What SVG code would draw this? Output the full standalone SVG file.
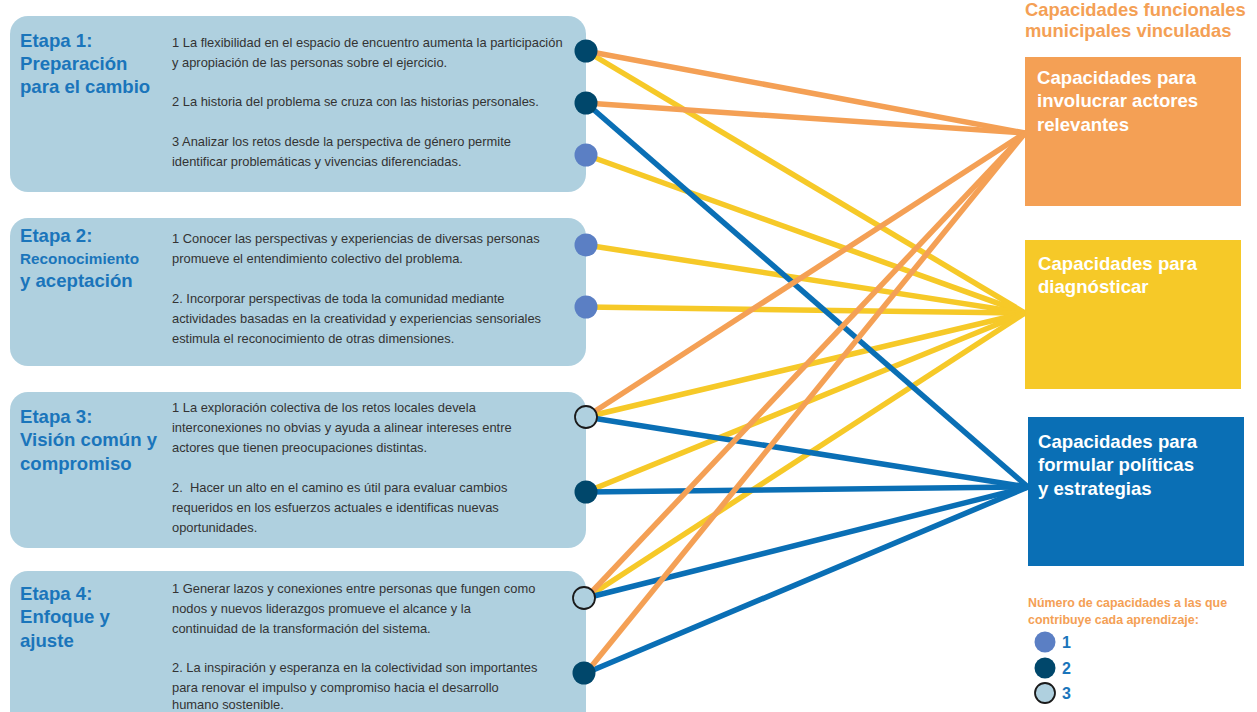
<svg xmlns="http://www.w3.org/2000/svg" width="1257" height="712" viewBox="0 0 1257 712">
<style>
.stage{fill:#afd0df}
.title{font-family:"Liberation Sans",Arial,sans-serif;font-weight:bold;font-size:18.6px;fill:#1a75bb}
.small{font-size:15.3px}
.body{font-family:"Liberation Sans",Arial,sans-serif;font-size:12.9px;fill:#333}
.cap{font-family:"Liberation Sans",Arial,sans-serif;font-weight:bold;font-size:18.6px;fill:#fff}
.hdr{font-family:"Liberation Sans",Arial,sans-serif;font-weight:bold;font-size:18.4px;fill:#f4a055}
.leg{font-family:"Liberation Sans",Arial,sans-serif;font-weight:bold;font-size:12.4px;fill:#f4a055}
.num{font-family:"Liberation Sans",Arial,sans-serif;font-weight:bold;font-size:16px;fill:#1a75bb}
.lo{stroke:#f4a055;stroke-width:5.5;fill:none}
.ly{stroke:#f6c928;stroke-width:5.5;fill:none}
.lb{stroke:#0a6fb5;stroke-width:5.5;fill:none}
.c1{fill:#5b7fc4}
.c2{fill:#00476b}
.c3{fill:#afd0df;stroke:#1a1a1a;stroke-width:1.8}
</style>

<g id="etapa1">
<rect class="stage" x="10" y="16" width="576" height="176" rx="18"/>
<text class="title" x="20" y="47">Etapa 1:</text>
<text class="title" x="20" y="70">Preparación</text>
<text class="title" x="20" y="93">para el cambio</text>
<text class="body" x="172" y="47">1 La flexibilidad en el espacio de encuentro aumenta la participación</text>
<text class="body" x="172" y="67">y apropiación de las personas sobre el ejercicio.</text>
<text class="body" x="172" y="106">2 La historia del problema se cruza con las historias personales.</text>
<text class="body" x="172" y="146">3 Analizar los retos desde la perspectiva de género permite</text>
<text class="body" x="172" y="166">identificar problemáticas y vivencias diferenciadas.</text>
</g>

<g id="etapa2">
<rect class="stage" x="10" y="218" width="576" height="148" rx="18"/>
<text class="title" x="20" y="242">Etapa 2:</text>
<text class="title small" x="20" y="264">Reconocimiento</text>
<text class="title" x="20" y="287">y aceptación</text>
<text class="body" x="172" y="243">1 Conocer las perspectivas y experiencias de diversas personas</text>
<text class="body" x="172" y="263">promueve el entendimiento colectivo del problema.</text>
<text class="body" x="172" y="303">2. Incorporar perspectivas de toda la comunidad mediante</text>
<text class="body" x="172" y="323">actividades basadas en la creatividad y experiencias sensoriales</text>
<text class="body" x="172" y="343">estimula el reconocimiento de otras dimensiones.</text>
</g>

<g id="etapa3">
<rect class="stage" x="10" y="392" width="576" height="156" rx="18"/>
<text class="title" x="20" y="423">Etapa 3:</text>
<text class="title" x="20" y="446">Visión común y</text>
<text class="title" x="20" y="470">compromiso</text>
<text class="body" x="172" y="412">1 La exploración colectiva de los retos locales devela</text>
<text class="body" x="172" y="432">interconexiones no obvias y ayuda a alinear intereses entre</text>
<text class="body" x="172" y="452">actores que tienen preocupaciones distintas.</text>
<text class="body" x="172" y="492" xml:space="preserve">2.  Hacer un alto en el camino es útil para evaluar cambios</text>
<text class="body" x="172" y="512">requeridos en los esfuerzos actuales e identificas nuevas</text>
<text class="body" x="172" y="532">oportunidades.</text>
</g>

<g id="etapa4">
<rect class="stage" x="10" y="571" width="576" height="170" rx="18"/>
<text class="title" x="20" y="600">Etapa 4:</text>
<text class="title" x="20" y="623">Enfoque y</text>
<text class="title" x="20" y="647">ajuste</text>
<text class="body" x="172" y="593">1 Generar lazos y conexiones entre personas que fungen como</text>
<text class="body" x="172" y="613">nodos y nuevos liderazgos promueve el alcance y la</text>
<text class="body" x="172" y="633">continuidad de la transformación del sistema.</text>
<text class="body" x="172" y="672">2. La inspiración y esperanza en la colectividad son importantes</text>
<text class="body" x="172" y="692">para renovar el impulso y compromiso hacia el desarrollo</text>
<text class="body" x="172" y="709">humano sostenible.</text>
</g>

<g id="header">
<text class="hdr" x="1025" y="15.5">Capacidades funcionales</text>
<text class="hdr" x="1025" y="37">municipales vinculadas</text>
</g>

<g id="cap-involucrar">
<rect x="1025" y="57" width="216" height="149" fill="#f4a055"/>
<text class="cap" x="1037" y="84">Capacidades para</text>
<text class="cap" x="1037" y="107">involucrar actores</text>
<text class="cap" x="1037" y="131">relevantes</text>
</g>

<g id="cap-diagnosticar">
<rect x="1025" y="240" width="216" height="149" fill="#f6c928"/>
<text class="cap" x="1038" y="270">Capacidades para</text>
<text class="cap" x="1038" y="293">diagnósticar</text>
</g>

<g id="cap-formular">
<rect x="1028" y="417" width="216" height="149" fill="#0a6fb5"/>
<text class="cap" x="1038" y="448">Capacidades para</text>
<text class="cap" x="1038" y="471">formular políticas</text>
<text class="cap" x="1038" y="495">y estrategias</text>
</g>

<g id="connectors">
<line class="ly" x1="586" y1="51" x2="1025" y2="313"/>
<line class="ly" x1="586" y1="155" x2="1025" y2="313"/>
<line class="ly" x1="586" y1="245" x2="1025" y2="313"/>
<line class="ly" x1="586" y1="307" x2="1025" y2="313"/>
<line class="ly" x1="586" y1="417" x2="1025" y2="313"/>
<line class="ly" x1="586" y1="492" x2="1025" y2="313"/>
<line class="ly" x1="586" y1="598" x2="1025" y2="313"/>
<line class="lb" x1="586" y1="103" x2="1028" y2="487"/>
<line class="lb" x1="586" y1="417" x2="1028" y2="487"/>
<line class="lb" x1="586" y1="492" x2="1028" y2="487"/>
<line class="lb" x1="586" y1="598" x2="1028" y2="487"/>
<line class="lb" x1="586" y1="673" x2="1028" y2="487"/>
<line class="lo" x1="586" y1="51" x2="1025" y2="133"/>
<line class="lo" x1="586" y1="103" x2="1025" y2="133"/>
<line class="lo" x1="586" y1="417" x2="1025" y2="133"/>
<line class="lo" x1="586" y1="598" x2="1025" y2="133"/>
<line class="lo" x1="586" y1="673" x2="1025" y2="133"/>
</g>

<g id="nodes">
<circle class="c2" cx="586" cy="51" r="11.5"/>
<circle class="c2" cx="586" cy="103" r="11.5"/>
<circle class="c1" cx="586" cy="155" r="11.5"/>
<circle class="c1" cx="586" cy="245" r="11.5"/>
<circle class="c1" cx="586" cy="307" r="11.5"/>
<circle class="c3" cx="586" cy="417" r="11"/>
<circle class="c2" cx="586" cy="492" r="11.5"/>
<circle class="c3" cx="584" cy="598" r="11"/>
<circle class="c2" cx="584" cy="673" r="11.5"/>
</g>

<g id="legend">
<text class="leg" x="1028" y="607">Número de capacidades a las que</text>
<text class="leg" x="1028" y="624">contribuye cada aprendizaje:</text>
<circle class="c1" cx="1045" cy="642" r="10.5"/>
<circle class="c2" cx="1045" cy="668" r="10.5"/>
<circle class="c3" cx="1045" cy="693" r="10"/>
<text class="num" x="1062" y="648">1</text>
<text class="num" x="1062" y="674">2</text>
<text class="num" x="1062" y="699">3</text>
</g>
</svg>
